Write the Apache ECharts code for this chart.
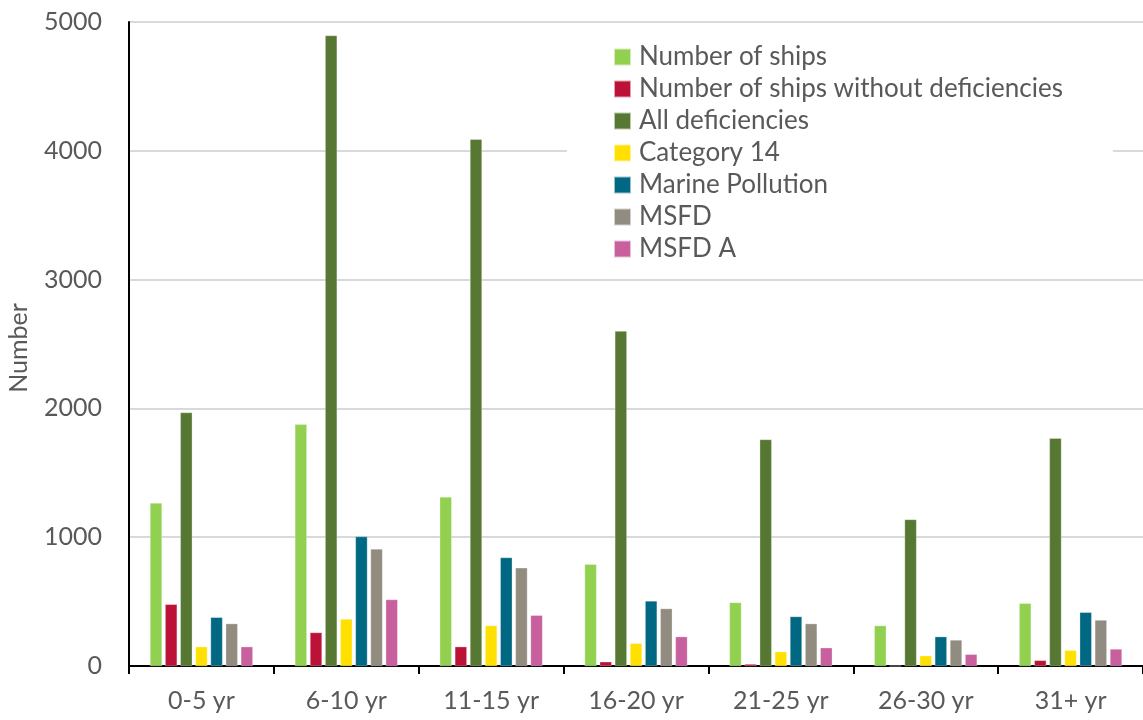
<!DOCTYPE html>
<html>
<head>
<meta charset="utf-8">
<script src="https://cdn.jsdelivr.net/npm/echarts@6/dist/echarts.min.js"></script>
<style>
  html, body { margin: 0; padding: 0; background: #fff; }
  #main { width: 1143px; height: 720px; }
</style>
</head>
<body>
<div id="main"></div>
<script>
// categories (ship age)
const categories = ['0-5 yr', '6-10 yr', '11-15 yr', '16-20 yr', '21-25 yr', '26-30 yr', '31+ yr']

// series values
const numberOfShips = [1265, 1876, 1313, 790, 493, 314, 487]
const shipsWithoutDef = [479, 260, 150, 33, 15, 0, 44]
const allDeficiencies = [1968, 4895, 4090, 2600, 1759, 1138, 1769]
const category14 = [150, 365, 314, 176, 111, 80, 122]
const marinePollution = [378, 1005, 842, 505, 384, 228, 417]
const msfd = [329, 909, 762, 446, 329, 202, 357]
const msfdA = [150, 516, 394, 228, 142, 91, 132]

const yTicks = [0, 1000, 2000, 3000, 4000, 5000]

const seriesDefs = [
  { name: 'Number of ships', data: numberOfShips, color: '#92D050' },
  { name: 'Number of ships without deficiencies', data: shipsWithoutDef, color: '#BC1237' },
  { name: 'All deficiencies', data: allDeficiencies, color: '#567832' },
  { name: 'Category 14', data: category14, color: '#FFE000' },
  { name: 'Marine Pollution', data: marinePollution, color: '#006883' },
  { name: 'MSFD', data: msfd, color: '#928B80' },
  { name: 'MSFD A', data: msfdA, color: '#C8609E' },
]

const font = 'Lato, "Open Sans", sans-serif'
const textColor = '#595959'

const chart = echarts.init(document.getElementById('main'))

const option = {
  animation: false,
  backgroundColor: '#fff',
  grid: { left: 129, right: -5, top: 22, bottom: 54, containLabel: false },
  legend: {
    orient: 'vertical',
    left: 567,
    top: 25,
    padding: [19, 50, 10, 46],
    backgroundColor: '#fff',
    itemWidth: 17,
    itemHeight: 17,
    itemGap: 6,
    icon: 'rect',
    textStyle: { fontFamily: font, fontSize: 26, lineHeight: 26, color: textColor, padding: [0, 0, 0, 3] },
    data: seriesDefs.map(s => s.name),
  },
  xAxis: {
    type: 'category',
    data: categories,
    axisLine: { lineStyle: { color: '#000', width: 2 } },
    axisTick: { show: true, length: 8, lineStyle: { color: '#000', width: 2 } },
    axisLabel: { fontFamily: font, fontSize: 25, color: textColor, margin: 22 },
  },
  yAxis: {
    type: 'value',
    min: yTicks[0],
    max: yTicks[yTicks.length - 1],
    interval: 1000,
    axisLine: { show: true, lineStyle: { color: '#000', width: 2 } },
    axisTick: { show: false },
    axisLabel: { fontFamily: font, fontSize: 25, color: textColor, margin: 27, formatter: v => String(v) },
    splitLine: { lineStyle: { color: '#D9D9D9', width: 2 } },
  },
  graphic: [{
    type: 'text',
    x: 19,
    y: 348,
    rotation: Math.PI / 2,
    style: {
      text: 'Number',
      fontFamily: font,
      fontSize: 25,
      fill: textColor,
      align: 'center',
      verticalAlign: 'middle',
    },
  }],
  series: seriesDefs.map(s => ({
    name: s.name,
    type: 'bar',
    data: s.data,
    barGap: '26%',
    barCategoryGap: '29%',
    itemStyle: { color: s.color, borderColor: 'rgba(255,255,255,0.6)', borderWidth: 0.5 },
  })),
}

chart.setOption(option)
</script>
</body>
</html>
